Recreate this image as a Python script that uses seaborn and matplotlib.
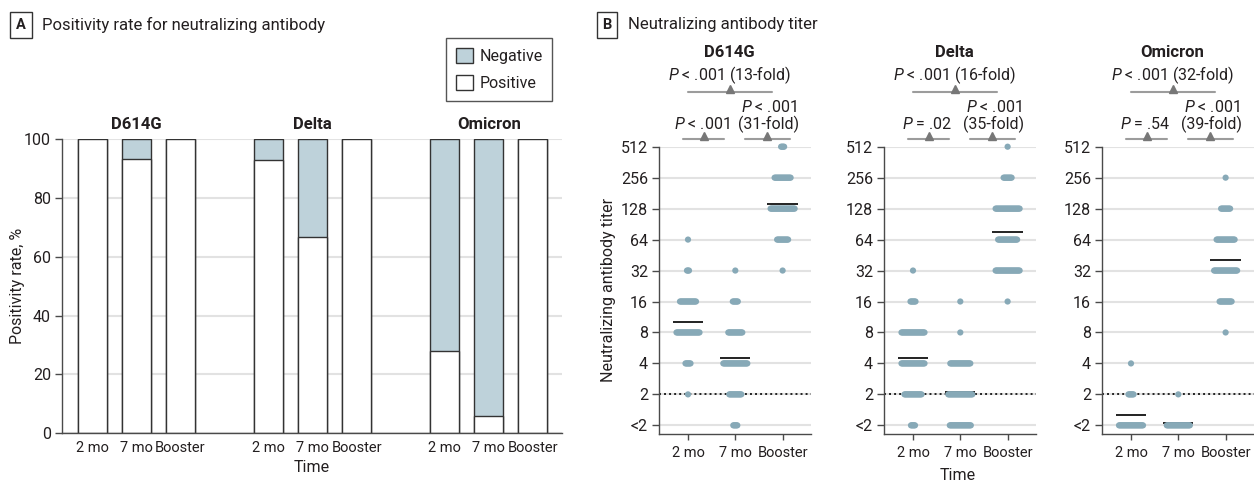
import numpy as np
import pandas as pd
import matplotlib
matplotlib.use("Agg")
import matplotlib.pyplot as plt
from matplotlib.patches import Patch
import seaborn as sns

variants = ["D614G", "Delta", "Omicron"]
times = ["2 mo", "7 mo", "Booster"]

# panel A: positivity rate (%) per time point
pos_d614g = [100, 93.3, 100]
pos_delta = [92.9, 66.7, 100]
pos_omicron = [27.9, 5.7, 100]

# panel B: titer levels (<2 plotted as 1) and number of participants per level
titer_levels = [1, 2, 4, 8, 16, 32, 64, 128, 256, 512]
titer_labels = ["<2", "2", "4", "8", "16", "32", "64", "128", "256", "512"]

counts_d614g = [
    [0, 1, 6, 24, 17, 3, 1, 0, 0, 0],     # 2 mo
    [5, 13, 25, 15, 6, 1, 0, 0, 0, 0],    # 7 mo
    [0, 0, 0, 0, 0, 1, 12, 26, 17, 4],    # Booster
]
counts_delta = [
    [5, 18, 24, 24, 6, 1, 0, 0, 0, 0],
    [22, 25, 21, 1, 1, 0, 0, 0, 0, 0],
    [0, 0, 0, 0, 1, 25, 20, 25, 9, 1],
]
counts_omicron = [
    [25, 6, 1, 0, 0, 0, 0, 0, 0, 0],
    [24, 1, 0, 0, 0, 0, 0, 0, 0, 0],
    [0, 0, 0, 1, 13, 24, 19, 10, 1, 0],
]

# geometric mean titers (black bars)
gmt_d614g = [10.1, 4.5, 142]
gmt_delta = [4.5, 2.1, 75]
gmt_omicron = [1.25, 1.05, 40.8]

# comparisons: 2 mo vs booster, 2 mo vs 7 mo, 7 mo vs booster
p_top = ["< .001 (13-fold)", "< .001 (16-fold)", "< .001 (32-fold)"]
p_left = ["< .001", "= .02", "= .54"]
p_right = [("< .001", "(31-fold)"), ("< .001", "(35-fold)"), ("< .001", "(39-fold)")]

pos_all = [pos_d614g, pos_delta, pos_omicron]
counts_all = [counts_d614g, counts_delta, counts_omicron]
gmt_all = [gmt_d614g, gmt_delta, gmt_omicron]

neg_color = "#bed2da"
dot_color = "#87a9b7"
text_color = "#231f20"
spine_color = "#4a4a4a"
FS = 11.5
XFS = 10.5

sns.set_theme(style="white")
plt.rcParams["font.family"] = ["Roboto", "DejaVu Sans"]
plt.rcParams["mathtext.fontset"] = "custom"
plt.rcParams["mathtext.it"] = "Roboto:italic"
plt.rcParams["mathtext.rm"] = "Roboto"
plt.rcParams["text.color"] = text_color
plt.rcParams["axes.labelcolor"] = text_color
plt.rcParams["xtick.color"] = text_color
plt.rcParams["ytick.color"] = text_color

W, H = 1254, 482
fig = plt.figure(figsize=(W / 100, H / 100), dpi=100)


def px_axes(x0, x1, y_top, y_bot):
    return fig.add_axes([x0 / W, 1 - y_bot / H, (x1 - x0) / W, (y_bot - y_top) / H])


def style_spines(ax):
    for s in ["top", "right"]:
        ax.spines[s].set_visible(False)
    for s in ["left", "bottom"]:
        ax.spines[s].set_color(spine_color)
        ax.spines[s].set_linewidth(1.0)


# ---------------- panel A ----------------
axA = px_axes(62, 562, 139.3, 433)
rows = []
for i, v in enumerate(variants):
    for j, t in enumerate(times):
        rows.append({"x": i * 4 + j, "total": 100, "pos": pos_all[i][j], "variant": v, "time": t})
dfA = pd.DataFrame(rows)

sns.barplot(data=dfA, x="x", y="total", native_scale=True, width=0.66, color=neg_color,
            saturation=1, edgecolor="#333333", linewidth=1, errorbar=None, ax=axA)
sns.barplot(data=dfA, x="x", y="pos", native_scale=True, width=0.66, color="white",
            saturation=1, edgecolor="#333333", linewidth=1, errorbar=None, ax=axA)

axA.set_xlim(-0.69, 10.66)
axA.set_ylim(0, 100)
axA.set_yticks([0, 20, 40, 60, 80, 100])
axA.set_xticks(dfA["x"])
axA.set_xticklabels(dfA["time"])
axA.yaxis.grid(True, color="#e2e2e2", lw=1.5)
axA.set_axisbelow(True)
style_spines(axA)
axA.tick_params(axis="y", left=True, length=5, width=1, color=spine_color, pad=3, labelsize=FS)
axA.tick_params(axis="x", bottom=False, length=0, pad=6, labelsize=XFS)
axA.set_ylabel("")
axA.set_xlabel("")
axA.text(-0.088, 0.5, "Positivity rate, %", transform=axA.transAxes, rotation=90,
         ha="center", va="center", fontsize=FS)
axA.text(0.5, -0.116, "Time", transform=axA.transAxes, ha="center", va="center", fontsize=FS)
for i, v in enumerate(variants):
    axA.text(i * 4 + 1, 1.049, v, transform=axA.get_xaxis_transform(), ha="center",
             va="center", fontsize=12, fontweight="bold")

fig.legend(handles=[Patch(facecolor=neg_color, edgecolor="#333333", lw=1, label="Negative"),
                    Patch(facecolor="white", edgecolor="#333333", lw=1, label="Positive")],
           loc="upper left", bbox_to_anchor=(446 / W, 1 - 38 / H), borderaxespad=0,
           fontsize=FS, frameon=True, fancybox=False, edgecolor="#555555", framealpha=1,
           handlelength=1.1, handleheight=1.1, handletextpad=0.4, borderpad=0.6,
           labelspacing=0.7)

# ---------------- panel B ----------------
lefts = [659, 884, 1102]
step_px = 1.0
unit_px = 47.3
max_span = 24 / unit_px
axesB = []
for i, v in enumerate(variants):
    ax = px_axes(lefts[i], lefts[i] + 152, 146.7, 433.7)
    axesB.append(ax)
    xs, ys = [], []
    for j in range(3):
        for lvl, n in zip(titer_levels, counts_all[i][j]):
            if n == 0:
                continue
            span = min((n - 1) * step_px / unit_px, max_span)
            offs = np.linspace(-span / 2, span / 2, n) if n > 1 else np.array([0.0])
            xs.extend(j + offs)
            ys.extend([lvl] * n)
    ax.set_yscale("log", base=2)
    ax.axhline(2, color="#222222", ls=(0, (1, 1.6)), lw=1.4, zorder=2)
    ax.hlines(gmt_all[i], np.arange(3) - 0.32, np.arange(3) + 0.32, color="#111111",
              lw=1.3, zorder=2.5)
    sns.scatterplot(x=xs, y=ys, ax=ax, s=20, color=dot_color, edgecolor="none",
                    linewidth=0, zorder=3, legend=False, clip_on=False)
    ax.set_xlim(-0.613, 2.60)
    ax.set_ylim(2 ** -0.27, 512)
    ax.set_yticks(titer_levels)
    ax.set_yticklabels(titer_labels)
    ax.minorticks_off()
    ax.set_xticks([0, 1, 2])
    ax.set_xticklabels(times)
    ax.yaxis.grid(True, color="#e2e2e2", lw=1.5)
    ax.set_axisbelow(True)
    style_spines(ax)
    ax.tick_params(axis="y", left=True, length=5, width=1, color=spine_color, pad=3, labelsize=FS)
    ax.tick_params(axis="x", bottom=True, length=4, width=1, color=spine_color, pad=5, labelsize=XFS)
    ax.set_ylabel("")
    ax.set_xlabel("")

    tr = ax.get_xaxis_transform()
    br_col = "#9c9c9c"
    tri_col = "#777777"
    # top bracket: 2 mo vs booster
    ax.plot([0, 1.77], [1.19, 1.19], color=br_col, lw=1.5, transform=tr, clip_on=False)
    ax.plot([0.88], [1.202], marker="^", ms=6, color=tri_col, transform=tr, clip_on=False)
    ax.text(0.88, 1.248, r"$\it{P}$ " + p_top[i], transform=tr, ha="center", va="center",
            fontsize=FS)
    # lower brackets: 2 mo vs 7 mo, 7 mo vs booster
    ax.plot([-0.1, 0.76], [1.026, 1.026], color=br_col, lw=1.5, transform=tr, clip_on=False)
    ax.plot([0.33], [1.038], marker="^", ms=6, color=tri_col, transform=tr, clip_on=False)
    ax.plot([1.2, 2.15], [1.026, 1.026], color=br_col, lw=1.5, transform=tr, clip_on=False)
    ax.plot([1.67], [1.038], marker="^", ms=6, color=tri_col, transform=tr, clip_on=False)
    ax.text(0.30, 1.0774, r"$\it{P}$ " + p_left[i], transform=tr, ha="center", va="center",
            fontsize=FS)
    ax.text(1.70, 1.1366, r"$\it{P}$ " + p_right[i][0], transform=tr, ha="center",
            va="center", fontsize=FS)
    ax.text(1.70, 1.0774, p_right[i][1], transform=tr, ha="center", va="center", fontsize=FS)
    ax.text(0.88, 1.3265, v, transform=tr, ha="center", va="center", fontsize=12,
            fontweight="bold")

axesB[0].text(-0.3355, 0.5, "Neutralizing antibody titer", transform=axesB[0].transAxes,
              rotation=90, ha="center", va="center", fontsize=FS)
axesB[1].text(0.487, -0.144, "Time", transform=axesB[1].transAxes, ha="center",
              va="center", fontsize=FS)

# panel headers
for lbl, bx, tx, title in [("A", 21, 42, "Positivity rate for neutralizing antibody"),
                           ("B", 607, 628, "Neutralizing antibody titer")]:
    fig.text(bx / W, 1 - 25 / H, lbl, ha="center", va="center", fontsize=10.5, fontweight="bold",
             bbox=dict(boxstyle="square,pad=0.4", fc="white", ec="#333333", lw=1))
    fig.text(tx / W, 1 - 25 / H, title, ha="left", va="center", fontsize=12)

fig.savefig("out.png", dpi=100)
